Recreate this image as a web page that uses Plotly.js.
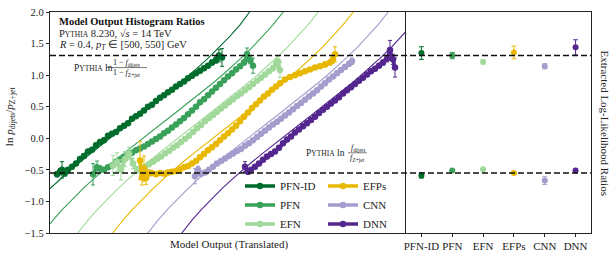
<!DOCTYPE html>
<html>
<head>
<meta charset="utf-8">
<script src="https://cdn.plot.ly/plotly-3.0.1.min.js"></script>
<style>html,body{margin:0;padding:0;background:#fff;}#chart{width:614px;height:262px;}</style>
</head>
<body>
<div id="chart"></div>
<script>
// ---------- Data (x = model output, translated; arbitrary units) ----------
const models = ["PFN-ID", "PFN", "EFN", "EFPs", "CNN", "DNN"];
const colors = ["#006d2c", "#3aa15a", "#a1d99b", "#e8b800", "#a29dcc", "#54278f"];

// Histogram-ratio points
const pfnidX = [7,10,12,15,18,22,26,30,34,38,42,46,50,54,58,62,66,70,74,78,82,86,90,94,98,102,106,110,114,118,122,126,130,134,138,142,146,150,154,158,162,166,169,172];
const pfnidY = [-0.57,-0.53,-0.50,-0.55,-0.50,-0.45,-0.40,-0.33,-0.28,-0.21,-0.18,-0.11,-0.06,-0.03,0.04,0.07,0.10,0.16,0.20,0.24,0.31,0.35,0.39,0.44,0.50,0.53,0.59,0.64,0.68,0.73,0.77,0.82,0.86,0.90,0.95,0.99,1.03,1.07,1.11,1.15,1.20,1.24,1.31,1.28];
const pfnidE = [0.04,0.05,0.13,0.05,0.03,0.02,0.02,0.02,0.02,0.02,0.02,0.02,0.02,0.02,0.02,0.02,0.02,0.02,0.02,0.02,0.02,0.02,0.02,0.02,0.02,0.02,0.02,0.02,0.02,0.02,0.02,0.02,0.02,0.02,0.02,0.03,0.03,0.03,0.03,0.03,0.04,0.05,0.10,0.14];

const pfnX = [43,47,50,54,58,62,66,70,74,78,82,86,90,94,98,102,106,110,114,118,122,126,130,134,138,142,146,150,154,158,162,166,170,174,178,182,186,190,194,197,200,203];
const pfnY = [-0.57,-0.46,-0.48,-0.50,-0.46,-0.43,-0.37,-0.34,-0.30,-0.26,-0.23,-0.19,-0.16,-0.13,-0.09,-0.05,-0.01,0.03,0.08,0.12,0.17,0.22,0.27,0.32,0.38,0.44,0.50,0.57,0.62,0.68,0.74,0.80,0.86,0.92,0.98,1.03,1.09,1.14,1.20,1.33,1.24,1.15];
const pfnE = [0.17,0.10,0.04,0.03,0.03,0.02,0.02,0.02,0.02,0.02,0.02,0.02,0.02,0.02,0.02,0.02,0.02,0.02,0.02,0.02,0.02,0.02,0.02,0.02,0.02,0.02,0.02,0.02,0.02,0.02,0.02,0.02,0.02,0.02,0.03,0.03,0.03,0.03,0.04,0.10,0.06,0.12];

const efnX = [63,67,71,75,79,83,87,91,95,99,103,107,111,115,119,123,127,131,135,139,143,147,151,155,159,163,167,171,175,179,183,187,191,195,199,203,207,211,215,219,223,226,228,230];
const efnY = [-0.43,-0.38,-0.50,-0.33,-0.24,-0.40,-0.50,-0.47,-0.45,-0.41,-0.37,-0.33,-0.29,-0.24,-0.20,-0.15,-0.11,-0.06,-0.01,0.04,0.10,0.16,0.21,0.27,0.32,0.37,0.42,0.47,0.52,0.57,0.62,0.67,0.71,0.76,0.81,0.86,0.91,0.96,1.01,1.06,1.11,1.18,1.22,1.08];
const efnE = [0.16,0.15,0.16,0.12,0.10,0.08,0.05,0.03,0.02,0.02,0.02,0.02,0.02,0.02,0.02,0.02,0.02,0.02,0.02,0.02,0.02,0.02,0.02,0.02,0.02,0.02,0.02,0.02,0.02,0.02,0.02,0.02,0.02,0.02,0.02,0.03,0.03,0.03,0.03,0.03,0.04,0.06,0.08,0.12];

const efpX = [90,92,94,96,99,102,106,110,114,118,122,126,130,134,138,142,146,150,154,158,162,166,170,174,178,182,186,190,194,198,202,206,210,214,218,222,226,230,235,240,245,250,255,260,265,270,275,280,283,285];
const efpY = [-0.35,-0.62,-0.48,-0.63,-0.55,-0.55,-0.57,-0.55,-0.56,-0.54,-0.53,-0.52,-0.49,-0.46,-0.44,-0.40,-0.36,-0.30,-0.25,-0.19,-0.14,-0.09,-0.03,0.03,0.08,0.14,0.20,0.27,0.34,0.41,0.48,0.54,0.60,0.66,0.71,0.77,0.82,0.87,0.93,0.97,1.00,1.03,1.06,1.09,1.12,1.14,1.17,1.20,1.25,1.33];
const efpE = [0.30,0.12,0.20,0.10,0.05,0.03,0.02,0.02,0.02,0.02,0.02,0.02,0.02,0.02,0.02,0.02,0.02,0.02,0.02,0.02,0.02,0.02,0.02,0.02,0.02,0.02,0.02,0.02,0.02,0.02,0.02,0.02,0.02,0.02,0.02,0.02,0.02,0.02,0.02,0.02,0.03,0.03,0.03,0.03,0.03,0.03,0.04,0.04,0.06,0.12];

const cnnX = [145,148,151,155,159,163,167,171,175,179,183,187,191,195,199,203,207,211,215,219,223,227,231,235,239,243,247,251,255,259,263,267,271,275,279,283,287,291,295,299,302];
const cnnY = [-0.60,-0.50,-0.56,-0.54,-0.50,-0.45,-0.40,-0.36,-0.32,-0.28,-0.24,-0.20,-0.17,-0.12,-0.08,-0.03,0.02,0.07,0.12,0.17,0.22,0.26,0.31,0.36,0.41,0.46,0.51,0.56,0.61,0.66,0.71,0.76,0.82,0.87,0.93,0.98,1.03,1.08,1.13,1.18,1.22];
const cnnE = [0.12,0.06,0.04,0.03,0.02,0.02,0.02,0.02,0.02,0.02,0.02,0.02,0.02,0.02,0.02,0.02,0.02,0.02,0.02,0.02,0.02,0.02,0.02,0.02,0.02,0.02,0.02,0.02,0.02,0.02,0.02,0.02,0.02,0.02,0.02,0.02,0.03,0.03,0.03,0.04,0.05];

const dnnX = [195,198,201,205,209,213,217,221,225,229,233,237,241,245,249,253,257,261,265,269,273,277,281,285,289,293,297,301,305,309,313,317,321,325,329,333,337,340,343,345];
const dnnY = [-0.45,-0.53,-0.50,-0.45,-0.40,-0.34,-0.29,-0.25,-0.21,-0.15,-0.08,-0.02,0.03,0.09,0.14,0.19,0.24,0.29,0.34,0.40,0.45,0.50,0.55,0.60,0.65,0.71,0.76,0.81,0.86,0.91,0.96,1.01,1.06,1.10,1.15,1.20,1.26,1.40,1.25,1.12];
const dnnE = [0.08,0.04,0.03,0.02,0.02,0.02,0.02,0.02,0.02,0.02,0.02,0.02,0.02,0.02,0.02,0.02,0.02,0.02,0.02,0.02,0.02,0.02,0.02,0.02,0.02,0.02,0.02,0.02,0.02,0.02,0.03,0.03,0.03,0.03,0.03,0.04,0.05,0.15,0.08,0.15];

// Fitted log-likelihood-ratio curve: offset from each model's centre, and value
const curveT = [-160,-150,-140,-130,-120,-110,-100,-90,-80,-70,-60,-50,-40,-30,-20,-10,0,10,20,30,40,50,60,70,80,90,100,110,120,130,140];
const curveY = [-2.72,-2.30,-1.985,-1.722,-1.496,-1.297,-1.117,-0.952,-0.797,-0.650,-0.510,-0.376,-0.247,-0.120,0.005,0.128,0.25,0.372,0.495,0.620,0.747,0.876,1.010,1.150,1.297,1.452,1.617,1.797,1.996,2.222,2.485];
const curveCentre = [80, 113, 148, 183, 218, 252];

// Extracted log-likelihood ratios (right panel)
const upperVal = [1.35, 1.31, 1.21, 1.36, 1.14, 1.44];
const upperErr = [0.10, 0.05, 0.03, 0.10, 0.04, 0.12];
const lowerVal = [-0.59, -0.51, -0.49, -0.55, -0.67, -0.51];
const lowerErr = [0.04, 0.02, 0.02, 0.02, 0.06, 0.02];

// Pythia reference levels
const pythiaUpper = 1.31;
const pythiaLower = -0.55;

// ---------- Build ----------
const FONT = "Liberation Serif, Times New Roman, serif";
const dataX = [pfnidX, pfnX, efnX, efpX, cnnX, dnnX];
const dataY = [pfnidY, pfnY, efnY, efpY, cnnY, dnnY];
const dataE = [pfnidE, pfnE, efnE, efpE, cnnE, dnnE];
const legendOf = ["legend", "legend", "legend", "legend2", "legend2", "legend2"];

const traces = [];
models.forEach((m, i) => {
  traces.push({
    x: curveT.map(t => t + curveCentre[i]), y: curveY,
    mode: "lines", line: {color: colors[i], width: 1.1},
    showlegend: false, hoverinfo: "skip", xaxis: "x", yaxis: "y"
  });
});
models.forEach((m, i) => {
  traces.push({
    x: dataX[i], y: dataY[i], name: m,
    error_y: {type: "data", array: dataE[i], visible: true, color: colors[i], thickness: 1, width: 2},
    mode: "lines+markers", line: {color: colors[i], width: 3.5},
    marker: {color: colors[i], size: 6.5},
    legend: legendOf[i], xaxis: "x", yaxis: "y"
  });
});
models.forEach((m, i) => {
  traces.push({
    x: [m, m], y: [upperVal[i], lowerVal[i]],
    error_y: {type: "data", array: [upperErr[i], lowerErr[i]], visible: true, color: colors[i], thickness: 1, width: 2.5},
    mode: "markers", marker: {color: colors[i], size: 6},
    showlegend: false, xaxis: "x2", yaxis: "y2"
  });
});

const split = 356 / 541;
const axLine = {showline: true, linecolor: "#222", linewidth: 1.2, showgrid: false, zeroline: false};

const small = () => "P<span style='font-size:7.5px'>YTHIA</span>";

const layout = {
  width: 614, height: 262,
  margin: {l: 50, r: 23, t: 12, b: 29},
  paper_bgcolor: "#fff", plot_bgcolor: "#fff",
  font: {family: FONT, size: 11, color: "#222"},
  xaxis: Object.assign({domain: [0, split], range: [0, 356], showticklabels: false, ticks: "", mirror: true}, axLine),
  yaxis: Object.assign({range: [-1.5, 2.0], dtick: 0.5, tickformat: ".1f", ticks: "outside", ticklen: 3, tickcolor: "#222",
    tickfont: {family: FONT, size: 10.5}, mirror: false}, axLine),
  xaxis2: Object.assign({domain: [split, 1], anchor: "y2", type: "category", categoryarray: models, range: [-0.5, 5.5],
    ticks: "outside", ticklen: 3, tickcolor: "#222", tickfont: {family: FONT, size: 11}, mirror: true}, axLine),
  yaxis2: Object.assign({anchor: "x2", matches: "y", range: [-1.5, 2.0], showticklabels: false, ticks: "", mirror: true}, axLine),
  showlegend: true,
  legend: {x: (240 - 50) / 541, y: (233 - 205) / 221.3, xanchor: "left", yanchor: "middle", bgcolor: "rgba(0,0,0,0)",
    font: {family: FONT, size: 11, color: "#222"}, tracegroupgap: 0},
  legend2: {x: (323 - 50) / 541, y: (233 - 205) / 221.3, xanchor: "left", yanchor: "middle", bgcolor: "rgba(0,0,0,0)",
    font: {family: FONT, size: 11, color: "#222"}, tracegroupgap: 0},
  shapes: [
    {type: "line", xref: "paper", x0: 0, x1: 1, yref: "y", y0: pythiaUpper, y1: pythiaUpper, line: {color: "#111", width: 1.6, dash: "6px,3px"}},
    {type: "line", xref: "paper", x0: 0, x1: 1, yref: "y", y0: pythiaLower, y1: pythiaLower, line: {color: "#111", width: 1.6, dash: "6px,3px"}},
    {type: "line", xref: "x", x0: 56, x1: 97, yref: "y", y0: 1.12, y1: 1.12, line: {color: "#222", width: 0.6}},
    {type: "line", xref: "x", x0: 298, x1: 317, yref: "y", y0: -0.23, y1: -0.23, line: {color: "#222", width: 0.6}}
  ],
  annotations: [
    {xref: "x", yref: "y", x: 7, y: 1.853, xanchor: "left", yanchor: "middle", showarrow: false,
      text: "<b>Model Output Histogram Ratios</b>", font: {family: FONT, size: 10.5, color: "#111"}},
    {xref: "x", yref: "y", x: 7, y: 1.665, xanchor: "left", yanchor: "middle", showarrow: false,
      text: small() + " 8.230, √<i>s</i> = 14 TeV", font: {family: FONT, size: 10.5, color: "#222"}},
    {xref: "x", yref: "y", x: 7, y: 1.475, xanchor: "left", yanchor: "middle", showarrow: false,
      text: "<i>R</i> = 0.4, <i>p<sub>T</sub></i> ∈ [500, 550] GeV", font: {family: FONT, size: 10.5, color: "#222"}},
    {xref: "x", yref: "y", x: 22, y: 1.115, xanchor: "left", yanchor: "middle", showarrow: false,
      text: small() + " ln", font: {family: FONT, size: 9.5, color: "#222"}},
    {xref: "x", yref: "y", x: 76.5, y: 1.2, xanchor: "center", yanchor: "middle", showarrow: false,
      text: "1 − <i>f</i><sub>dijets</sub>", font: {family: FONT, size: 8, color: "#222"}},
    {xref: "x", yref: "y", x: 76.5, y: 1.03, xanchor: "center", yanchor: "middle", showarrow: false,
      text: "1 − <i>f</i><sub>Z+jet</sub>", font: {family: FONT, size: 8, color: "#222"}},
    {xref: "x", yref: "y", x: 297, y: -0.235, xanchor: "right", yanchor: "middle", showarrow: false,
      text: small() + " ln", font: {family: FONT, size: 9.5, color: "#222"}},
    {xref: "x", yref: "y", x: 307.5, y: -0.15, xanchor: "center", yanchor: "middle", showarrow: false,
      text: "<i>f</i><sub>dijets</sub>", font: {family: FONT, size: 8, color: "#222"}},
    {xref: "x", yref: "y", x: 307.5, y: -0.32, xanchor: "center", yanchor: "middle", showarrow: false,
      text: "<i>f</i><sub>Z+jet</sub>", font: {family: FONT, size: 8, color: "#222"}},
    {xref: "paper", yref: "paper", x: (229 - 50) / 541, y: -(245 - 233) / 221.3, xanchor: "center", yanchor: "middle", showarrow: false,
      text: "Model Output (Translated)", font: {family: FONT, size: 11, color: "#222"}},
    {xref: "paper", yref: "paper", x: -40 / 541, y: (233 - 116) / 221.3, xanchor: "center", yanchor: "middle", showarrow: false, textangle: -90,
      text: "ln <i>p</i><sub>dijets</sub>/<i>p</i><sub>Z+jet</sub>", font: {family: FONT, size: 11, color: "#222"}},
    {xref: "paper", yref: "paper", x: (605 - 50) / 541, y: 0.5, xanchor: "center", yanchor: "middle", showarrow: false, textangle: 90,
      text: "Extracted Log-Likelihood Ratios", font: {family: FONT, size: 11, color: "#222"}}
  ]
};

Plotly.newPlot("chart", traces, layout, {staticPlot: true, displayModeBar: false});
</script>
</body>
</html>
